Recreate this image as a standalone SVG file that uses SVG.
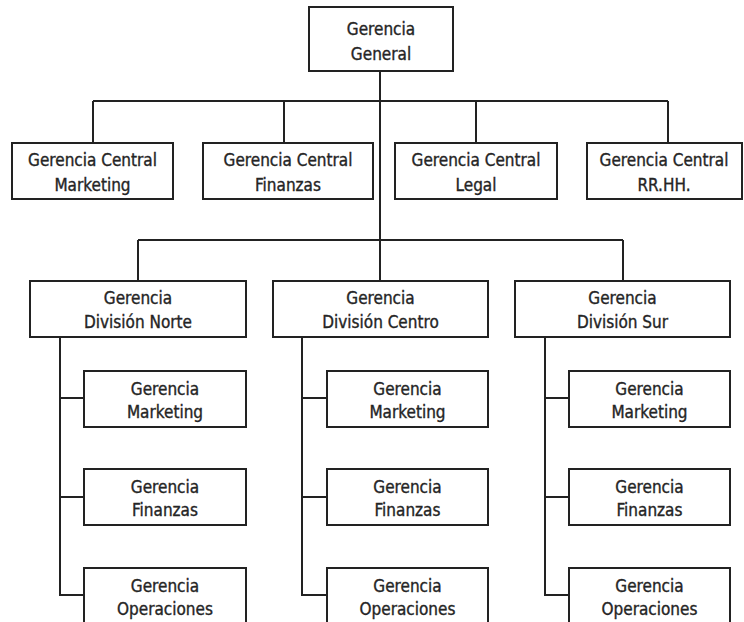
<svg xmlns="http://www.w3.org/2000/svg" width="744" height="622" viewBox="0 0 744 622">
  <style>
    .box { fill: #ffffff; stroke: #222222; stroke-width: 2; }
    .lbl { font-family: "DejaVu Sans Condensed", "DejaVu Sans", sans-serif; font-stretch: condensed; font-size: 17px; fill: #252525; stroke: #252525; stroke-width: 0.35; text-anchor: middle; }
    .wire { fill: none; stroke: #222222; stroke-width: 2; }
  </style>
  <rect width="744" height="622" fill="#ffffff"/>

  <!-- connectors -->
  <g id="connectors" class="wire">
    <!-- top level to central offices and divisions -->
    <line x1="380" y1="71" x2="380" y2="281"/>
    <line x1="93" y1="101" x2="668" y2="101"/>
    <line x1="93" y1="101" x2="93" y2="143"/>
    <line x1="284" y1="101" x2="284" y2="143"/>
    <line x1="476" y1="101" x2="476" y2="143"/>
    <line x1="668" y1="101" x2="668" y2="143"/>
    <line x1="138" y1="240" x2="623" y2="240"/>
    <line x1="138" y1="240" x2="138" y2="281"/>
    <line x1="623" y1="240" x2="623" y2="281"/>
    <!-- División Norte branch -->
    <polyline points="60,337 60,595 84,595"/>
    <line x1="60" y1="398" x2="84" y2="398"/>
    <line x1="60" y1="497" x2="84" y2="497"/>
    <!-- División Centro branch -->
    <polyline points="302,337 302,595 327,595"/>
    <line x1="302" y1="398" x2="327" y2="398"/>
    <line x1="302" y1="497" x2="327" y2="497"/>
    <!-- División Sur branch -->
    <polyline points="545,337 545,595 569,595"/>
    <line x1="545" y1="398" x2="569" y2="398"/>
    <line x1="545" y1="497" x2="569" y2="497"/>
  </g>

  <!-- top level -->
  <g id="gerencia-general">
    <rect class="box" x="309" y="7" width="144" height="64"/>
    <text class="lbl" x="381" y="35">Gerencia</text>
    <text class="lbl" x="381" y="60">General</text>
  </g>

  <!-- central offices -->
  <g id="central-marketing">
    <rect class="box" x="12" y="143" width="161" height="56"/>
    <text class="lbl" x="92.5" y="166">Gerencia Central</text>
    <text class="lbl" x="92.5" y="191">Marketing</text>
  </g>
  <g id="central-finanzas">
    <rect class="box" x="203" y="143" width="170" height="56"/>
    <text class="lbl" x="288" y="166">Gerencia Central</text>
    <text class="lbl" x="288" y="191">Finanzas</text>
  </g>
  <g id="central-legal">
    <rect class="box" x="395" y="143" width="162" height="56"/>
    <text class="lbl" x="476" y="166">Gerencia Central</text>
    <text class="lbl" x="476" y="191">Legal</text>
  </g>
  <g id="central-rrhh">
    <rect class="box" x="587" y="143" width="155" height="56"/>
    <text class="lbl" x="664" y="166">Gerencia Central</text>
    <text class="lbl" x="664" y="191">RR.HH.</text>
  </g>

  <!-- divisions -->
  <g id="division-norte">
    <rect class="box" x="30" y="281" width="216" height="56"/>
    <text class="lbl" x="138" y="304">Gerencia</text>
    <text class="lbl" x="138" y="328">División Norte</text>
  </g>
  <g id="division-centro">
    <rect class="box" x="273" y="281" width="215" height="56"/>
    <text class="lbl" x="380.5" y="304">Gerencia</text>
    <text class="lbl" x="380.5" y="328">División Centro</text>
  </g>
  <g id="division-sur">
    <rect class="box" x="515" y="281" width="215" height="56"/>
    <text class="lbl" x="622.5" y="304">Gerencia</text>
    <text class="lbl" x="622.5" y="328">División Sur</text>
  </g>

  <!-- Norte units -->
  <g id="norte-marketing">
    <rect class="box" x="84" y="371" width="162" height="56"/>
    <text class="lbl" x="165" y="395">Gerencia</text>
    <text class="lbl" x="165" y="418">Marketing</text>
  </g>
  <g id="norte-finanzas">
    <rect class="box" x="84" y="469" width="162" height="56"/>
    <text class="lbl" x="165" y="493">Gerencia</text>
    <text class="lbl" x="165" y="516">Finanzas</text>
  </g>
  <g id="norte-operaciones">
    <rect class="box" x="84" y="568" width="162" height="58"/>
    <text class="lbl" x="165" y="592">Gerencia</text>
    <text class="lbl" x="165" y="615">Operaciones</text>
  </g>

  <!-- Centro units -->
  <g id="centro-marketing">
    <rect class="box" x="327" y="371" width="161" height="56"/>
    <text class="lbl" x="407.5" y="395">Gerencia</text>
    <text class="lbl" x="407.5" y="418">Marketing</text>
  </g>
  <g id="centro-finanzas">
    <rect class="box" x="327" y="469" width="161" height="56"/>
    <text class="lbl" x="407.5" y="493">Gerencia</text>
    <text class="lbl" x="407.5" y="516">Finanzas</text>
  </g>
  <g id="centro-operaciones">
    <rect class="box" x="327" y="568" width="161" height="58"/>
    <text class="lbl" x="407.5" y="592">Gerencia</text>
    <text class="lbl" x="407.5" y="615">Operaciones</text>
  </g>

  <!-- Sur units -->
  <g id="sur-marketing">
    <rect class="box" x="569" y="371" width="161" height="56"/>
    <text class="lbl" x="649.5" y="395">Gerencia</text>
    <text class="lbl" x="649.5" y="418">Marketing</text>
  </g>
  <g id="sur-finanzas">
    <rect class="box" x="569" y="469" width="161" height="56"/>
    <text class="lbl" x="649.5" y="493">Gerencia</text>
    <text class="lbl" x="649.5" y="516">Finanzas</text>
  </g>
  <g id="sur-operaciones">
    <rect class="box" x="569" y="568" width="161" height="58"/>
    <text class="lbl" x="649.5" y="592">Gerencia</text>
    <text class="lbl" x="649.5" y="615">Operaciones</text>
  </g>
</svg>
